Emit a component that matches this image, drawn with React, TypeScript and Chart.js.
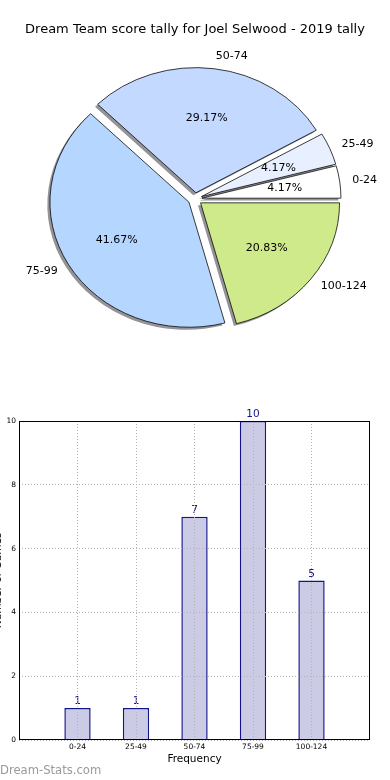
import React, { useEffect, useRef } from 'react';
import { Chart, registerables } from 'chart.js';

Chart.register(...registerables);

// ---------- data ----------
const TITLE = 'Dream Team score tally for Joel Selwood - 2019 tally';
const categories = ['0-24', '25-49', '50-74', '75-99', '100-124'];
const counts = [1, 1, 7, 10, 5];
const pieColors = ['#ffffff', '#e8f0ff', '#c4d9ff', '#b4d6ff', '#cfea8b'];
const yTicks = [0, 2, 4, 6, 8, 10];
const xTitle = 'Frequency';
const yTitle = 'Number of Games';
const watermark = 'Dream-Stats.com';

// ---------- style ----------
const FONT = '"DejaVu Sans", sans-serif';
const Y_SCALE = 0.9;
const EXPLODE = 7;
const PIE_R = 139;
const SHADOW = 'rgba(40,40,50,0.5)';
const GRID_COLOR = '#b4b4b4';

const total = counts.reduce((a, b) => a + b, 0);
const pieLabels = [...categories].reverse();
const pieValues = [...counts].reverse();
const pieBg = [...pieColors].reverse();

const pieGeomPlugin = {
  id: 'pieGeom',
  beforeDatasetsDraw(chart: any) {
    const ca = chart.chartArea;
    const cx = (ca.left + ca.right) / 2;
    const cy = (ca.top + ca.bottom) / 2;
    const meta = chart.getDatasetMeta(0);
    meta.data.forEach((el: any) => {
      const mid = (el.startAngle + el.endAngle) / 2;
      el.x = cx + Math.cos(mid) * EXPLODE;
      el.y = cy + Math.sin(mid) * EXPLODE;
    });
    const ctx = chart.ctx;
    ctx.save();
    ctx.translate(cx, cy);
    ctx.scale(1, Y_SCALE);
    ctx.translate(-cx, -cy);
    // shadows first, beneath every wedge
    meta.data.forEach((el: any) => {
      const saved = el.options;
      el.options = Object.assign({}, saved, {
        backgroundColor: SHADOW,
        borderWidth: 0,
        borderColor: 'rgba(0,0,0,0)',
      });
      ctx.save();
      ctx.translate(-2.6, 2.4 / Y_SCALE);
      el.draw(ctx);
      ctx.restore();
      el.options = saved;
    });
  },
  afterDatasetsDraw(chart: any) {
    const ctx = chart.ctx;
    ctx.restore();
    const ca = chart.chartArea;
    const cy = (ca.top + ca.bottom) / 2;
    const meta = chart.getDatasetMeta(0);
    const values = chart.data.datasets[0].data as number[];
    const labels = chart.data.labels as string[];
    ctx.save();
    ctx.font = `11px ${FONT}`;
    ctx.fillStyle = '#000';
    ctx.textBaseline = 'middle';
    meta.data.forEach((el: any, i: number) => {
      const mid = (el.startAngle + el.endAngle) / 2;
      const R = el.outerRadius;
      const c = Math.cos(mid);
      const s = Math.sin(mid);
      const pct = ((values[i] / total) * 100).toFixed(2) + '%';
      const px = el.x + c * 0.6 * R;
      const py = cy + (el.y - cy + s * 0.6 * R) * Y_SCALE;
      ctx.textAlign = 'center';
      ctx.fillText(pct, px, py);
      const lx = el.x + c * 1.09 * R;
      const ly = cy + (el.y - cy + s * 1.1 * R) * Y_SCALE;
      ctx.textAlign = c > 0 ? 'left' : 'right';
      ctx.fillText(labels[i], lx, ly);
    });
    ctx.restore();
  },
};

const barPlugin = {
  id: 'barExtras',
  afterDatasetsDraw(chart: any) {
    const ctx = chart.ctx;
    const meta = chart.getDatasetMeta(0);
    ctx.save();
    ctx.font = `10.5px ${FONT}`;
    ctx.fillStyle = '#14148a';
    ctx.textAlign = 'center';
    ctx.textBaseline = 'alphabetic';
    meta.data.forEach((bar: any, i: number) => {
      ctx.fillText(String(counts[i]), bar.x, bar.y - 4);
    });
    ctx.restore();
  },
  afterDraw(chart: any) {
    const ctx = chart.ctx;
    const ca = chart.chartArea;
    ctx.save();
    ctx.strokeStyle = '#000';
    ctx.lineWidth = 1;
    const l = Math.round(ca.left) + 0.5;
    const r = Math.round(ca.right) - 0.5;
    const t = Math.round(ca.top) + 0.5;
    const b = Math.round(ca.bottom) - 0.5;
    ctx.strokeRect(l, t, r - l, b - t);
    ctx.restore();
  },
};

export default function App() {
  const pieRef = useRef<HTMLCanvasElement>(null);
  const barRef = useRef<HTMLCanvasElement>(null);

  useEffect(() => {
    const pie = new Chart(pieRef.current as HTMLCanvasElement, {
      type: 'pie',
      data: {
        labels: pieLabels,
        datasets: [
          {
            data: pieValues,
            backgroundColor: pieBg,
            borderColor: '#000',
            borderWidth: 0.8,
            hoverOffset: 0,
            radius: PIE_R,
            clip: false,
          } as any,
        ],
      },
      options: {
        responsive: false,
        animation: false,
        events: [],
        rotation: 90,
        radius: PIE_R,
        layout: { padding: { bottom: 49 } },
        plugins: {
          legend: { display: false },
          tooltip: { enabled: false },
          title: {
            display: true,
            text: TITLE,
            color: '#000',
            font: { family: FONT, size: 13, weight: 'normal' },
            padding: { top: 22, bottom: 19.4 },
          },
        },
      } as any,
      plugins: [pieGeomPlugin],
    });

    const grid = { color: GRID_COLOR, lineWidth: 1, drawTicks: false, z: 1, offset: false };
    const border = { display: false, color: '#000', width: 1, dash: [1, 2], z: 1 };
    const bar = new Chart(barRef.current as HTMLCanvasElement, {
      type: 'bar',
      data: {
        datasets: [
          {
            data: counts.map((v, i) => ({ x: i, y: v })),
            backgroundColor: '#cbcbe5',
            borderColor: '#14148c',
            borderWidth: 1.5,
            barPercentage: 0.45,
            categoryPercentage: 1,
          } as any,
        ],
      },
      options: {
        responsive: false,
        animation: false,
        events: [],
        layout: { padding: { left: 0, right: 20, top: 31, bottom: 0 } },
        plugins: { legend: { display: false }, tooltip: { enabled: false } },
        scales: {
          x: {
            type: 'linear',
            min: -1,
            max: 5,
            offset: false,
            grid,
            border,
            afterBuildTicks: (scale: any) => {
              scale.ticks = categories.map((_, i) => ({ value: i }));
            },
            afterFit: (scale: any) => {
              scale.height = 40;
            },
            ticks: {
              autoSkip: false,
              maxRotation: 0,
              padding: 3,
              color: '#000',
              font: { family: FONT, size: 7.5 },
              callback: (v: any) => categories[v] ?? '',
            },
            title: {
              display: true,
              text: xTitle,
              color: '#000',
              font: { family: FONT, size: 10.5 },
              padding: { top: 0, bottom: 14 },
            },
          },
          y: {
            type: 'linear',
            min: 0,
            max: 10,
            grid,
            border,
            afterBuildTicks: (scale: any) => {
              scale.ticks = yTicks.map((v) => ({ value: v }));
            },
            afterFit: (scale: any) => {
              scale.width = 19;
            },
            ticks: {
              padding: 3,
              color: '#000',
              font: { family: FONT, size: 7.5 },
              callback: (v: any) => String(v),
            },
            title: {
              display: true,
              text: yTitle,
              color: '#000',
              font: { family: FONT, size: 10.5 },
              padding: { top: -8, bottom: 0 },
            },
          },
        },
      } as any,
      plugins: [barPlugin],
    });

    return () => {
      pie.destroy();
      bar.destroy();
    };
  }, []);

  return (
    <div
      style={{
        position: 'fixed',
        left: 0,
        top: 0,
        width: 390,
        height: 780,
        background: '#fff',
        overflow: 'hidden',
      }}
    >
      <canvas
        ref={pieRef}
        width={390}
        height={390}
        style={{ position: 'absolute', left: 0, top: 0, width: 390, height: 390 }}
      />
      <canvas
        ref={barRef}
        width={390}
        height={390}
        style={{ position: 'absolute', left: 0, top: 390, width: 390, height: 390 }}
      />
      <div
        style={{
          position: 'absolute',
          left: 0,
          top: 763,
          font: `11.6px ${FONT}`,
          color: '#9a9a9a',
          whiteSpace: 'nowrap',
        }}
      >
        {watermark}
      </div>
    </div>
  );
}
